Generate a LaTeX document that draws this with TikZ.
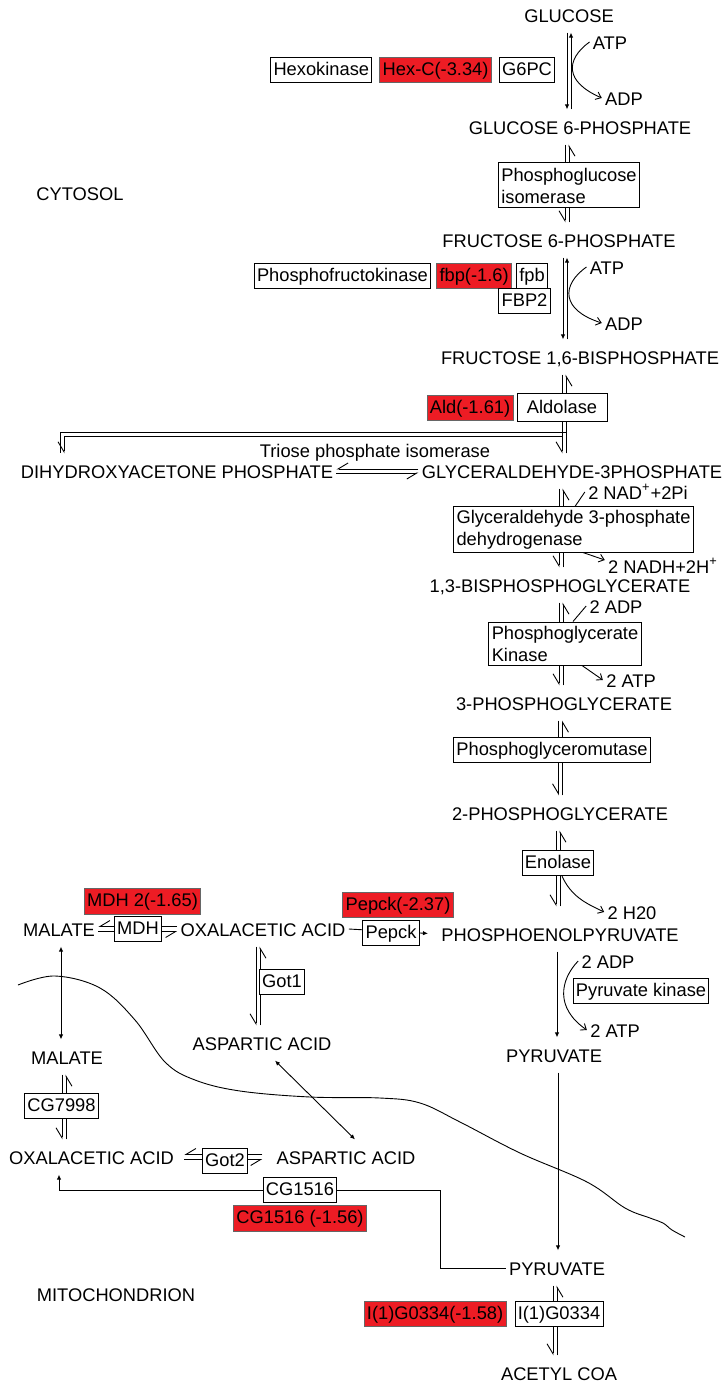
\documentclass[tikz,border=0pt]{standalone}
\usepackage{fontspec}
\setmainfont{Liberation Sans}
\usetikzlibrary{positioning,calc,arrows.meta}
\definecolor{hitred}{HTML}{ED1C24}
\pgfdeclarelayer{bg}
\pgfsetlayers{bg,main}
\tikzset{>={Latex[length=2.5pt,width=2.2pt]},
  every node/.style={font=\fontsize{9.15}{11}\selectfont},
  met/.style={inner xsep=1.5pt,inner ysep=5pt,text height=0.72em,text depth=0pt},
  cof/.style={inner sep=1.5pt,text height=0.72em,text depth=0pt},
  enz/.style={draw,fill=white,line width=0.5pt,inner xsep=1.4pt,inner ysep=1.5pt,
    text height=0.75em,text depth=0.22em},
  enztwo/.style={draw,fill=white,line width=0.5pt,align=left,inner xsep=1.4pt,
    inner ysep=1.5pt,minimum height=22.5pt},
  hit/.style={enz,fill=hitred,draw=black!60},
  harp/.style={-{Straight Barb[right,length=5pt,width=6pt]}},
  cofarr/.style={-{Straight Barb[length=2.5pt,width=4pt]}},
  line/.style={line width=0.45pt}}
% reversible step: axis x, upper node, lower node
\newcommand{\revpair}[3]{%
  \draw[line,harp] (#1-2,0 |- #2.south) -- (#1-2,0 |- #3.north);
  \draw[line,harp] (#1+2,0 |- #3.north) -- (#1+2,0 |- #2.south);}

\begin{document}
\begin{tikzpicture}[x=0.5pt,y=-0.5pt]
  \useasboundingbox (0,0) rectangle (726,1384);

  % metabolites
  \node [met] (glc) at (569,15) {GLUCOSE};
  \node [met] (g6p) at (580,127) {GLUCOSE 6-PHOSPHATE};
  \node [met] (f6p) at (559,240) {FRUCTOSE 6-PHOSPHATE};
  \node [met] (f16bp) at (580,357) {FRUCTOSE 1,6-BISPHOSPHATE};
  \node [met] (dhap) at (177,471) {DIHYDROXYACETONE PHOSPHATE};
  \node [met] (ga3p) at (572,471) {GLYCERALDEHYDE-3PHOSPHATE};
  \node [met] (bpg) at (560,585) {1,3-BISPHOSPHOGLYCERATE};
  \node [met] (pga3) at (564,703) {3-PHOSPHOGLYCERATE};
  \node [met] (pga2) at (560,813) {2-PHOSPHOGLYCERATE};
  \node [met] (pep) at (560,934) {PHOSPHOENOLPYRUVATE};
  \node [met] (pyrc) at (554,1055) {PYRUVATE};
  \node [met] (pyrm) at (557,1268) {PYRUVATE};
  \node [met] (acoa) at (559,1373) {ACETYL COA};
  \node [met] (malc) at (59,929) {MALATE};
  \node [met] (oaac) at (263,929) {OXALACETIC ACID};
  \node [met] (aspc) at (262,1043) {ASPARTIC ACID};
  \node [met] (malm) at (67,1057) {MALATE};
  \node [met] (oaam) at (91.5,1157) {OXALACETIC ACID};
  \node [met] (aspm) at (346,1157) {ASPARTIC ACID};

  % compartments
  \node [met] (cyto) at (80,193) {CYTOSOL};
  \node [met] (mito) at (116,1294) {MITOCHONDRION};

  % cofactors
  \node [cof] (atpa) at (610,42) {ATP};
  \node [cof] (adpa) at (624,98) {ADP};
  \node [cof] (atpb) at (607,267) {ATP};
  \node [cof] (adpb) at (624,323) {ADP};
  \node [cof] (nad) at (638,492) {2 NAD\textsuperscript{+}+2Pi};
  \node [cof] (nadh) at (663,566) {2 NADH+2H\textsuperscript{+}};
  \node [cof] (adpc) at (616,606) {2 ADP};
  \node [cof] (atpc) at (631,680) {2 ATP};
  \node [cof] (water) at (632,912) {2 H20};
  \node [cof] (adpd) at (608,961) {2 ADP};
  \node [cof] (atpd) at (615,1030) {2 ATP};
  \node [cof] (tpi) at (375,450) {Triose phosphate isomerase};

  % enzymes
  \node [enz] (g6pc) at (527,70) {G6PC};
  \node [hit,left=3.5pt of g6pc] (hexc) {Hex-C(-3.34)};
  \node [enz,left=3.5pt of hexc] (hk) {Hexokinase};
  \node [enztwo] (pgi) at (569,185.5) {Phosphoglucose\\isomerase};
  \node [enz] (fpb) at (532,276) {fpb};
  \node [hit,left=2pt of fpb] (fbp) {fbp(-1.6)};
  \node [enz,left=2.5pt of fbp] (pfk) {Phosphofructokinase};
  \node [enz] (fbptwo) at (524.5,301) {FBP2};
  \node [enz,minimum width=45pt,minimum height=14pt] (aldo) at (562,408) {Aldolase};
  \node [hit,left=1.5pt of aldo] (ald) {Ald(-1.61)};
  \node [enztwo] (gapdh) at (573.5,529.5) {Glyceraldehyde 3-phosphate\\dehydrogenase};
  \node [enztwo,minimum height=21.5pt] (pgk) at (565,643.5) {Phosphoglycerate\\Kinase};
  \node [enz] (pgm) at (552,750) {Phosphoglyceromutase};
  \node [enz] (eno) at (558,863) {Enolase};
  \node [enz] (pk) at (641,991) {Pyruvate kinase};
  \node [enz] (mdh) at (138,929) {MDH};
  \node [hit] (mdhtwo) at (142.5,901.5) {MDH 2(-1.65)};
  \node [enz] (pepck) at (391,933) {Pepck};
  \node [hit] (pepckr) at (398,905) {Pepck(-2.37)};
  \node [enz] (gotone) at (282,982) {Got1};
  \node [enz] (cgsev) at (61.5,1106) {CG7998};
  \node [enz] (gottwo) at (225,1161) {Got2};
  \node [enz] (cgone) at (300,1190) {CG1516};
  \node [hit,below=1pt of cgone] (cgoner) {CG1516 (-1.56)};
  \node [enz] (ilg) at (559,1314) {I(1)G0334};
  \node [hit,left=4pt of ilg] (ilgr) {I(1)G0334(-1.58)};

  \begin{pgfonlayer}{bg}
    % glycolysis
    \draw [line,->] (567,0 |- glc.south) -- (567,0 |- g6p.north);
    \draw [line,->] (571,0 |- g6p.north) -- (571,0 |- glc.south);
    \draw [line,cofarr] (atpa.west) .. controls (565,60) and (565,82) .. (adpa.west);
    \revpair{567}{g6p}{f6p}
    \draw [line,->] (563,0 |- f6p.south) -- (563,0 |- f16bp.north);
    \draw [line,->] (567,0 |- f16bp.north) -- (567,0 |- f6p.south);
    \draw [line,cofarr] (atpb.west) .. controls (561,285) and (561,310) .. (adpb.west);
    \revpair{564}{f16bp}{ga3p}
    \draw [line,harp] (562,436) -| (64,0 |- dhap.north);
    \draw [line] (566,432) -| (60,0 |- dhap.north);
    \draw [line,harp] ([yshift=1pt]ga3p.west) -- ([yshift=1pt]dhap.east);
    \draw [line,harp] ([yshift=-1pt]dhap.east) -- ([yshift=-1pt]ga3p.west);
    \revpair{561}{ga3p}{bpg}
    \draw [line] (nad.west) -- (575,0 |- gapdh.north);
    \draw [line,cofarr] (583,0 |- gapdh.south) -- ([yshift=3pt]nadh.west);
    \revpair{561}{bpg}{pga3}
    \draw [line] (adpc.west) -- (573,0 |- pgk.north);
    \draw [line,cofarr] (582,0 |- pgk.south) -- (atpc.west);
    \revpair{560.5}{pga3}{pga2}
    \draw [line,harp,shorten >=5pt] (556,0 |- pga2.south) -- (556,0 |- pep.north);
    \draw [line,harp,shorten <=5pt] (560,0 |- pep.north) -- (560,0 |- pga2.south);
    \draw [line,cofarr] (562,0 |- eno.south) to [out=-65,in=155] (water.west);
    \draw [line,->] (557,0 |- pep.south) -- (557,0 |- pyrc.north);
    \draw [line,cofarr] (adpd.west) .. controls (560,980) and (555,1008) .. (atpd.west);
    \draw [line,->] (558,0 |- pyrc.south) -- (558,0 |- pyrm.north);
    \revpair{555}{pyrm}{acoa}
    % malate / aspartate shuttle
    \draw [line,harp] ([yshift=1.25pt]oaac.west) -- ([yshift=1.25pt]malc.east);
    \draw [line,harp] ([yshift=-1.25pt]malc.east) -- ([yshift=-1.25pt]oaac.west);
    \draw [line,->,shorten >=5pt] (oaac.east) -- (pep.west);
    \revpair{258}{oaac}{aspc}
    \draw [line,<->] (61,0 |- malc.south) -- (61,0 |- malm.north);
    \revpair{64}{malm}{oaam}
    \draw [line,harp,shorten <=5.5pt,shorten >=3.5pt] ([yshift=1.25pt]aspm.west) -- ([yshift=1.25pt]oaam.east);
    \draw [line,harp,shorten <=3.5pt,shorten >=5.5pt] ([yshift=-1.25pt]oaam.east) -- ([yshift=-1.25pt]aspm.west);
    \draw [line,<->] ([xshift=6.5pt]aspc.south) -- ([xshift=4.5pt]aspm.north);
    \draw [line,->] (cgone.west) -| (59,0 |- oaam.south);
    \draw [line] (cgone.east) -- ++(103,0) |- (pyrm.west);
  \end{pgfonlayer}

  % inner mitochondrial membrane
  \draw [line] plot [smooth,tension=0.6] coordinates {(18,985) (55,976) (100,988)
    (135,1020) (165,1062) (195,1080) (240,1091) (310,1097) (380,1098) (420,1103)
    (460,1122) (520,1153) (587,1182) (625,1208) (650,1218) (663,1223) (672,1230) (685,1237)};
\end{tikzpicture}
\end{document}
